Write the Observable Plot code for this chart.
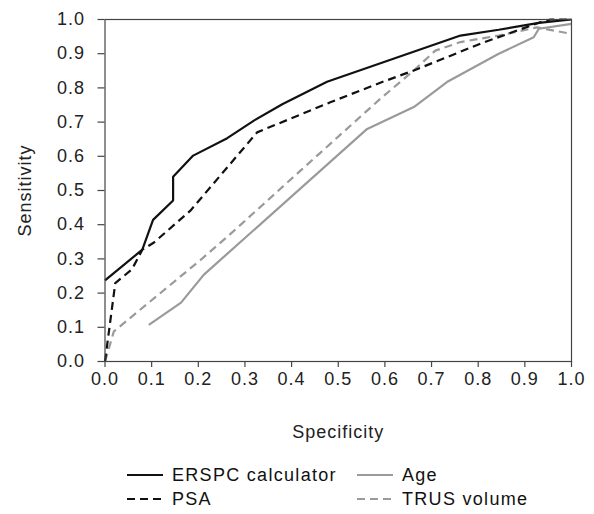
<!DOCTYPE html>
<html>
<head>
<meta charset="utf-8">
<script src="https://cdn.jsdelivr.net/npm/d3@7"></script>
<script src="https://cdn.jsdelivr.net/npm/@observablehq/plot@0.6"></script>
<style>
  body { margin: 0; background: #fff; }
  #chart { width: 594px; }
  #legend { position: relative; width: 594px; height: 64px; font-family: "Liberation Sans", Arial, sans-serif; font-size: 18px; color: #111; letter-spacing: 1.3px; }
  .item { position: absolute; display: flex; align-items: center; height: 24px; }
  .item svg { margin-right: 9px; }
</style>
</head>
<body>
<div id="chart"></div>
<div id="legend"></div>
<script>
// ---- data ----
const seriesNames = ["ERSPC calculator", "PSA", "Age", "TRUS volume"];

const erspcX = [0, 0.08, 0.103, 0.146, 0.146, 0.189, 0.262, 0.32, 0.38, 0.476, 0.762, 0.844, 0.93, 1.0];
const erspcY = [0.237, 0.327, 0.414, 0.471, 0.540, 0.602, 0.653, 0.705, 0.752, 0.818, 0.953, 0.970, 0.990, 1.0];

const psaX = [0, 0.022, 0.058, 0.08, 0.105, 0.183, 0.326, 0.483, 0.59, 0.662, 0.806, 0.933, 0.955, 1.0];
const psaY = [0, 0.229, 0.270, 0.327, 0.348, 0.441, 0.670, 0.758, 0.815, 0.851, 0.930, 0.992, 1.0, 1.0];

const ageX = [0.094, 0.163, 0.212, 0.562, 0.662, 0.733, 0.844, 0.919, 0.93, 1.0];
const ageY = [0.107, 0.172, 0.254, 0.680, 0.744, 0.817, 0.900, 0.948, 0.973, 0.987];

const trusX = [0, 0.019, 0.205, 0.269, 0.419, 0.59, 0.662, 0.708, 0.762, 0.844, 0.926, 1.0];
const trusY = [0, 0.088, 0.297, 0.373, 0.558, 0.768, 0.851, 0.909, 0.934, 0.953, 0.977, 0.958];

const xTicks = [0, 0.1, 0.2, 0.3, 0.4, 0.5, 0.6, 0.7, 0.8, 0.9, 1.0];
const yTicks = [0, 0.1, 0.2, 0.3, 0.4, 0.5, 0.6, 0.7, 0.8, 0.9, 1.0];

// ---- styles ----
const styles = {
  "ERSPC calculator": {stroke: "#111", dash: null},
  "PSA": {stroke: "#111", dash: "8,5"},
  "Age": {stroke: "#9a9a9a", dash: null},
  "TRUS volume": {stroke: "#9a9a9a", dash: "8,5"}
};

const zip = (xs, ys) => xs.map((x, i) => ({x, y: ys[i]}));
const seriesData = {
  "ERSPC calculator": zip(erspcX, erspcY),
  "PSA": zip(psaX, psaY),
  "Age": zip(ageX, ageY),
  "TRUS volume": zip(trusX, trusY)
};

const drawOrder = ["Age", "TRUS volume", "PSA", "ERSPC calculator"];

const chart = Plot.plot({
  width: 594,
  height: 450,
  marginLeft: 104.5,
  marginRight: 23,
  marginTop: 19,
  marginBottom: 89,
  style: "font-family: 'Liberation Sans', Arial, sans-serif; font-size: 18px; color: #222; background: #fff; letter-spacing: 1px;",
  x: {domain: [0, 1]},
  y: {domain: [0, 1]},
  marks: [
    ...drawOrder.map(name => Plot.line(seriesData[name], {
      x: "x", y: "y",
      stroke: styles[name].stroke,
      strokeWidth: 2.2,
      strokeDasharray: styles[name].dash,
      strokeLinejoin: "miter",
      strokeLinecap: "butt"
    })),
    Plot.frame({stroke: "#444", strokeWidth: 1.2}),
    Plot.axisX({
      ticks: xTicks, tickFormat: d => d.toFixed(1),
      tickSize: 6, tickPadding: 5, stroke: "#444", strokeWidth: 1.2, fill: "#222",
      label: "Specificity", labelAnchor: "center", labelOffset: 76, labelArrow: "none"
    }),
    Plot.axisY({
      ticks: yTicks, tickFormat: d => d.toFixed(1),
      tickSize: 7, tickPadding: 13, stroke: "#444", strokeWidth: 1.2, fill: "#222",
      label: "Sensitivity", labelAnchor: "center", labelOffset: 87, labelArrow: "none"
    })
  ]
});
document.getElementById("chart").appendChild(chart);

// ---- legend ----
const legend = document.getElementById("legend");
const legendPos = {
  "ERSPC calculator": {left: 127, top: 13},
  "Age": {left: 357, top: 13},
  "PSA": {left: 127, top: 37},
  "TRUS volume": {left: 357, top: 37}
};
seriesNames.forEach(name => {
  const div = document.createElement("div");
  div.className = "item";
  div.style.left = legendPos[name].left + "px";
  div.style.top = legendPos[name].top + "px";
  const s = styles[name];
  div.innerHTML = `<svg width="36" height="6"><line x1="0" x2="36" y1="3" y2="3" stroke="${s.stroke}" stroke-width="2.2" ${s.dash ? `stroke-dasharray="${s.dash}"` : ""}/></svg><span>${name}</span>`;
  legend.appendChild(div);
});
</script>
</body>
</html>
